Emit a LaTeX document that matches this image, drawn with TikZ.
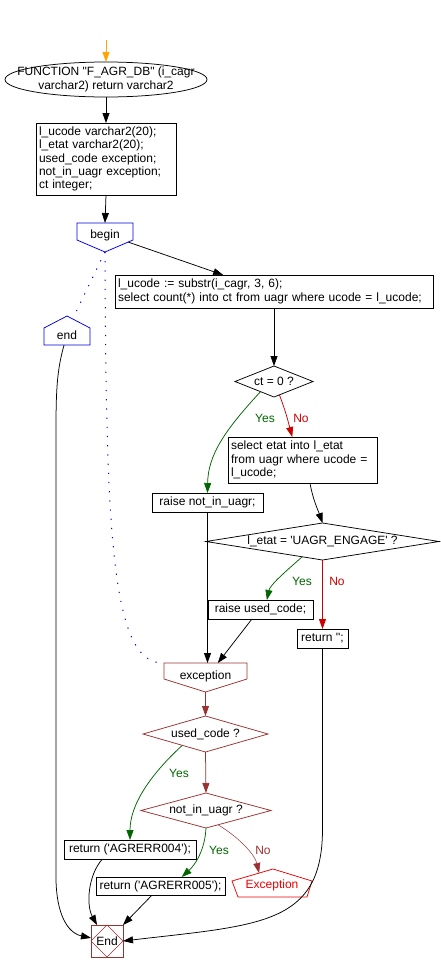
\documentclass[tikz,border=0pt]{standalone}
\usepackage{fontspec}
\setmainfont{Liberation Sans}
\usetikzlibrary{arrows.meta,shapes.geometric}
\definecolor{cblue}{RGB}{0,0,230}
\definecolor{cgreen}{RGB}{0,102,0}
\definecolor{cred}{RGB}{204,0,0}
\definecolor{cdred}{RGB}{153,51,51}
\definecolor{cexc}{RGB}{235,0,0}
\definecolor{corange}{RGB}{255,165,0}
\begin{document}
\begin{tikzpicture}[x=1pt,y=-1pt,
  every node/.style={font=\fontsize{12}{13.4}\selectfont, inner sep=0pt, outer sep=0pt},
  arr/.style={-{Triangle[length=10pt,width=7pt]}, line width=0.75pt},
  box/.style={draw, line width=0.75pt, rectangle},
  lbox/.style={box, align=left, inner xsep=3pt},
  dia/.style={draw, diamond, line width=0.75pt},
  dotl/.style={cblue, line width=1pt, dash pattern=on 1.2pt off 8pt},
  shp/.style={line width=0.75pt}]
\fill[white] (0,0) rectangle (441,980);
\useasboundingbox (0,0) rectangle (441,980);

% nodes
\node[draw, ellipse, shp, minimum width=202pt, minimum height=35pt] (func) at (106,79.5) {};
\node[align=center] (functxt) at (func) {FUNCTION \textquotedbl F\_AGR\_DB\textquotedbl{} (i\_cagr\\varchar2) return varchar2};

\node[lbox, text width=134pt, minimum height=72pt] (b1) at (106,159) {l\_ucode varchar2(20);\\l\_etat varchar2(20);\\used\_code exception;\\not\_in\_uagr exception;\\ct integer;};

\node[minimum width=56pt, minimum height=17pt] (begin) at (105,231.5) {};
\draw[cblue, shp] (begin.north west) -- (begin.north east) -- (begin.south east) -- (105,252) coordinate (bgP) -- (begin.south west) -- cycle;
\node (begintxt) at (105,235) {begin};

\node[minimum width=46pt, minimum height=17pt] (endn) at (67,336.5) {};
\draw[cblue, shp] (endn.south west) -- (endn.north west) -- (67,316) coordinate (endA) -- (endn.north east) -- (endn.south east) -- cycle;
\node (endtxt) at (67,335) {end};

\node[lbox, text width=312pt, minimum height=33pt] (b2) at (274,291.5) {l\_ucode := substr(i\_cagr, 3, 6);\\select count(*) into ct from uagr where ucode = l\_ucode;};

\node[dia, minimum width=78pt, minimum height=31pt] (d1) at (274,381.5) {};
\node (d1t) at (d1) {ct = 0 ?};

\node[lbox, text width=143pt, minimum height=46pt] (b3) at (302.5,460) {select etat into l\_etat\\from uagr where ucode =\\l\_ucode;};

\node[box, minimum width=111pt, minimum height=19pt] (r1) at (207.5,502.5) {raise not\_in\_uagr;};

\node[dia, minimum width=233pt, minimum height=37pt] (d2) at (322.5,541.5) {};
\node (d2t) at (d2) {l\_etat = \textquotesingle UAGR\_ENGAGE\textquotesingle{} ?};

\node[box, minimum width=105pt, minimum height=19pt] (r2) at (260.5,609.5) {raise used\_code;};
\node[box, minimum width=51pt, minimum height=19pt] (ret0) at (322.5,638.5) {return \textquotesingle\textquotesingle;};

\node[minimum width=83pt, minimum height=16pt] (exc) at (205.5,671) {};
\draw[cdred, shp] (exc.north west) -- (exc.north east) -- (exc.south east) -- (205.5,692) coordinate (excP) -- (exc.south west) -- cycle;
\node (exctxt) at (205.5,676) {exception};

\node[dia, cdred, minimum width=125pt, minimum height=36pt] (d3) at (205.5,734) {};
\node (d3t) at (d3) {used\_code ?};
\node[dia, cdred, minimum width=130pt, minimum height=35pt] (d4) at (206,810.5) {};
\node (d4t) at (d4) {not\_in\_uagr ?};

\node[box, minimum width=132pt, minimum height=19pt] (ret4) at (130,849.5) {return (\textquotesingle AGRERR004\textquotesingle);};
\node[box, minimum width=129pt, minimum height=18pt] (ret5) at (160.5,886) {return (\textquotesingle AGRERR005\textquotesingle);};

\draw[cexc, shp] (273,869) coordinate (ExcA) -- (312,881) -- (307,897) -- (238,897) -- (232,881) -- cycle;
\node[text=cexc] (Exc) at (272,885) {Exception};

\node[draw, cdred, shp, minimum width=32pt, minimum height=32pt] (End) at (107,941) {};
\draw[cdred, line width=0.5pt] (End.north) -- (End.east) -- (End.south) -- (End.west) -- cycle;
\node (Endt) at (End) {End};

% labels
\node[text=cgreen] (y1) at (265,418) {Yes};
\node[text=cred] (n1) at (301,418) {No};
\node[text=cgreen] (y2) at (302,581) {Yes};
\node[text=cred] (n2) at (337,581) {No};
\node[text=cgreen] (y3) at (179,773) {Yes};
\node[text=cgreen] (y4) at (219,850) {Yes};
\node[text=cdred] (n4) at (263,850) {No};

% connectors
\coordinate (start) at (106,40);
\draw[arr, corange] (start) -- (func.north);
\draw[arr] (func.south) -- (b1.north);
\draw[arr] (b1.south) -- (begin.north);
\coordinate (bgR) at (128,242);
\draw[arr] (bgR) -- (b2.162);
\draw[arr] (b2.south) -- (d1.north);
\draw[arr, cgreen] (d1.217) .. controls (225,430) and (208,455) .. (r1.north);
\draw[arr, cred] (d1.292) .. controls (287,415) and (289,425) .. (b3.114);
\draw[arr] (b3.288) .. controls (313,500) and (318,510) .. (d2.north);
\draw[arr, cgreen] (d2.217) .. controls (285,572) and (270,585) .. (r2.56);
\draw[arr, cred] (d2.south) -- (ret0.north);
\draw[arr] (r1.south) -- (r1.south |- exc.north);
\draw[arr] (r2.228) -- (exc.33);
\draw[arr, cdred] (excP) -- (d3.north);
\draw[arr, cgreen] (d3.206) .. controls (150,775) and (130,805) .. (ret4.north);
\draw[arr, cdred] (d3.south) -- (d4.north);
\draw[arr, cgreen] (d4.south) .. controls (205,850) and (195,865) .. (ret5.23);
\coordinate (ExcIn) at (259,873);
\draw[arr, cdred, line width=0.5pt] (d4.310) .. controls (240,838) and (255,855) .. (ExcIn);
\draw[arr] (ret4.199) .. controls (88,875) and (86,905) .. (End.122);
\draw[arr] (ret5.227) -- (End.north east);
\draw[arr] (endn.251) .. controls (57,370) and (56,390) .. (56,430) -- (56,880) .. controls (57,922) and (72,934) .. (End.169);
\draw[arr] (ret0.south) -- (322.5,830) .. controls (322,925) and (260,925) .. (End.east);

% dotted
\coordinate (endIn) at (75,314);
\draw[dotl] (bgP) -- (endIn);
\draw[dotl] (bgP) .. controls (106,540) and (112,665) .. (exc.north west);
\end{tikzpicture}
\end{document}
